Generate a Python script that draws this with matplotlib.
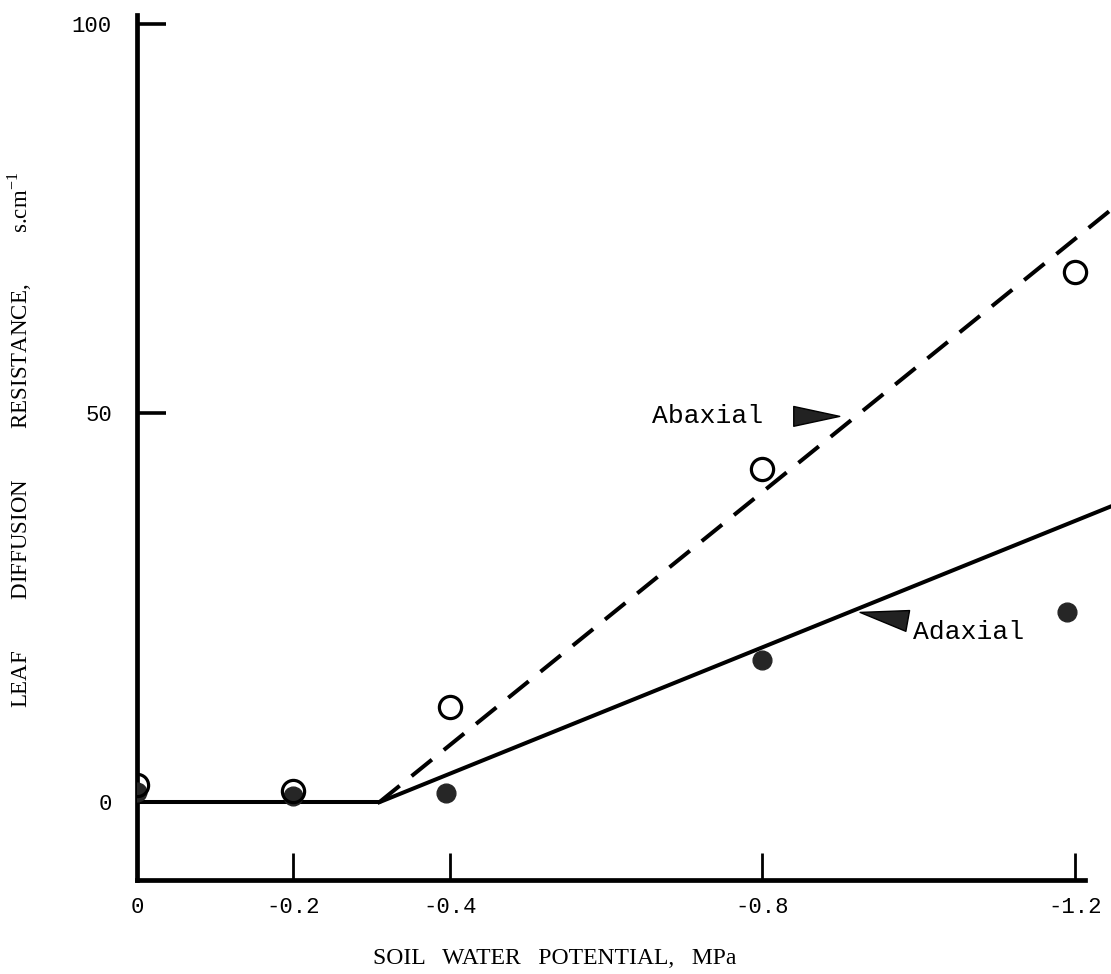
import matplotlib
matplotlib.use("Agg")
import matplotlib.pyplot as plt

plt.rcParams["mathtext.fontset"] = "custom"
plt.rcParams["mathtext.rm"] = "Liberation Serif"

# Soil water potential (MPa) and leaf diffusion resistance (s/cm)
potential = [0.0, -0.2, -0.4, -0.8, -1.2]
abaxial = [2.2, 1.5, 12.2, 42.9, 68.1]
adaxial_x = [0.0, -0.2, -0.395, -0.8, -1.19]
adaxial = [1.3, 0.8, 1.2, 18.3, 24.4]

# Fitted broken-stick lines: flat to the threshold, then linear
threshold = -0.31
line_end = -1.26
flat_x = [0.0, threshold]
flat_y = [0.0, 0.0]
abaxial_fit_x = [threshold, line_end]
abaxial_fit_y = [0.0, 77.3]
adaxial_fit_x = [threshold, line_end]
adaxial_fit_y = [0.0, 38.6]

xtick_labels = ["0", "-0.2", "-0.4", "-0.8", "-1.2"]
yticks = [0, 50, 100]

fig = plt.figure(figsize=(11.11, 9.74), dpi=100)
ax = fig.add_axes([0.1233, 0.0965, 0.8767, 0.8881])
ax.set_xlim(0, -1.246)
ax.set_ylim(-10, 101.2)

for s in ("top", "right"):
    ax.spines[s].set_visible(False)
ax.spines["left"].set_linewidth(3.4)
ax.spines["bottom"].set_linewidth(3.4)
ax.spines["bottom"].set_bounds(0, -1.213)

mono = "Liberation Mono"
ax.set_xticks(potential)
ax.set_xticklabels(xtick_labels, fontfamily=mono, fontsize=16)
ax.set_yticks(yticks)
ax.set_yticklabels([str(v) for v in yticks], fontfamily=mono, fontsize=16)
ax.tick_params(axis="x", direction="in", length=19.5, width=2.0, pad=12)
ax.tick_params(axis="y", direction="in", length=21, width=2.6, pad=18)

ax.plot(flat_x, flat_y, color="black", lw=2.9, solid_capstyle="butt")
ax.plot(adaxial_fit_x, adaxial_fit_y, color="black", lw=2.9)
ax.plot(abaxial_fit_x, abaxial_fit_y, color="black", lw=2.9,
        dashes=(6.5, 3.8))

ax.plot(adaxial_x, adaxial, "o", color="#262626", ms=13.5, zorder=3)
ax.plot(potential, abaxial, "o", mfc="none", mec="black", ms=16,
        mew=2.3, zorder=4)

ax.annotate("Abaxial", xy=(-0.899, 49.6), xytext=(-0.730, 49.6),
            ha="center", va="center", fontfamily=mono, fontsize=19,
            arrowprops=dict(arrowstyle="wedge,tail_width=0.75,shrink_factor=0.5",
                            fc="#222222", ec="black", lw=1,
                            shrinkA=20, shrinkB=0))
ax.annotate("Adaxial", xy=(-0.925, 24.4), xytext=(-0.993, 21.9),
            ha="left", va="center", fontfamily=mono, fontsize=19,
            arrowprops=dict(arrowstyle="wedge,tail_width=0.8,shrink_factor=0.5",
                            fc="#222222", ec="black", lw=1,
                            shrinkA=2, shrinkB=0))

# typed axis captions, words spread out
xgap = " " * 3
fig.text(555 / 1111, 1 - 958 / 974,
         xgap.join(["SOIL", "WATER", "POTENTIAL,", "MPa"]),
         ha="center", va="center", fontfamily="Liberation Serif", fontsize=17)
ygap = " " * 9
fig.text(20 / 1111, 1 - 440 / 974,
         ygap.join(["LEAF", "DIFFUSION", "RESISTANCE,", r"s.cm$^{-1}$"]),
         ha="center", va="center", rotation=90,
         fontfamily="Liberation Serif", fontsize=16.5)

fig.savefig("out.png", dpi=100, facecolor="white")
